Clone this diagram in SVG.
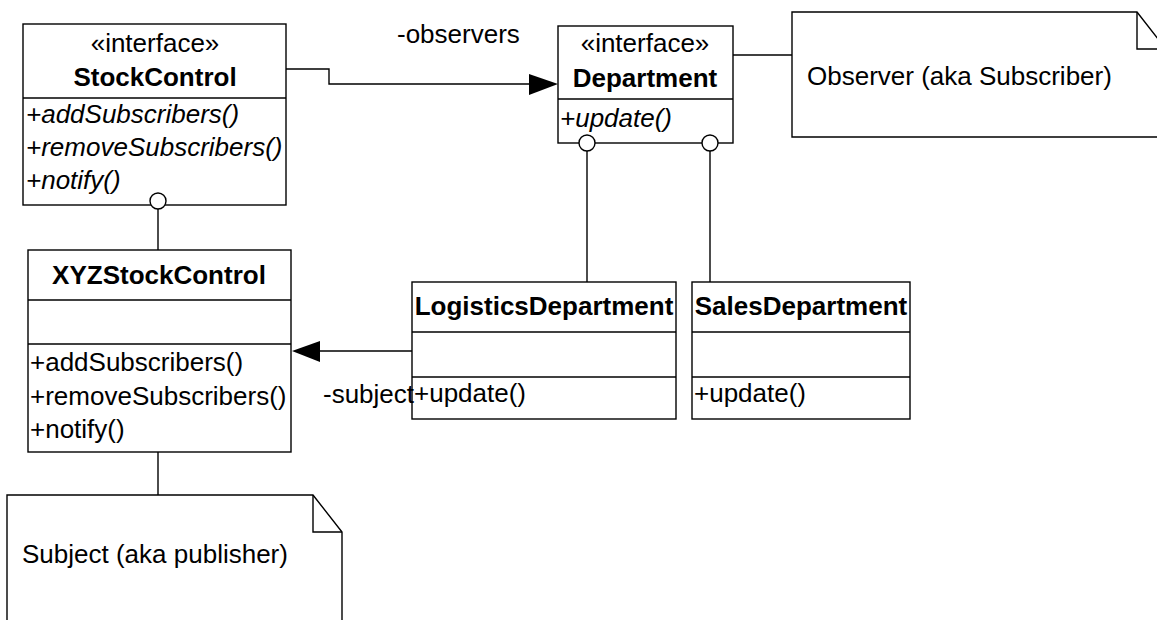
<svg xmlns="http://www.w3.org/2000/svg" width="1157" height="620" viewBox="0 0 1157 620">
<style>
.box{fill:#fff;stroke:#000;stroke-width:1.4}
.ln{fill:none;stroke:#000;stroke-width:1.4}
text{font-family:"Liberation Sans",Arial,sans-serif;font-size:26px;fill:#000}
.b{font-weight:bold}
.i{font-style:italic}
.c{text-anchor:middle}
</style>
<rect width="1157" height="620" fill="#fff"/>
<g id="connectors">
<polyline class="ln" points="286,69 329,69 329,84 530,84"/>
<polygon points="558,84 529,74 529,95" fill="#000"/>
<line class="ln" x1="158" y1="209" x2="158" y2="250"/>
<line class="ln" x1="587" y1="151" x2="587" y2="282"/>
<line class="ln" x1="710" y1="151" x2="710" y2="282"/>
<line class="ln" x1="412" y1="351" x2="319" y2="351"/>
<polygon points="292,351 320,341 320,362" fill="#000"/>
<line class="ln" x1="733" y1="55" x2="801" y2="55"/>
<line class="ln" x1="158" y1="452" x2="158" y2="498"/>
</g>
<g id="StockControl">
<rect class="box" x="23" y="24" width="263" height="181"/>
<line class="ln" x1="23" y1="98" x2="286" y2="98"/>
<text class="c" x="155" y="52">«interface»</text>
<text class="c b" x="155" y="86">StockControl</text>
<text class="i" x="26" y="123">+addSubscribers()</text>
<text class="i" x="26" y="156">+removeSubscribers()</text>
<text class="i" x="26" y="189">+notify()</text>
<circle class="box" cx="158" cy="201" r="8"/>
</g>
<g id="Department">
<rect class="box" x="558" y="26" width="175" height="117"/>
<line class="ln" x1="558" y1="99" x2="733" y2="99"/>
<text class="c" x="645" y="52">«interface»</text>
<text class="c b" x="645" y="87">Department</text>
<text class="i" x="560" y="127">+update()</text>
<circle class="box" cx="587" cy="143" r="8"/>
<circle class="box" cx="710" cy="143" r="8"/>
</g>
<g id="ObserverNote">
<path class="box" d="M792,12 L1137,12 L1166,49 L1166,137 L792,137 Z"/>
<polyline class="ln" points="1137,12 1137,49 1166,49"/>
<text x="807" y="85">Observer (aka Subscriber)</text>
</g>
<g id="XYZStockControl">
<rect class="box" x="28" y="250" width="263" height="202"/>
<line class="ln" x1="28" y1="300" x2="291" y2="300"/>
<line class="ln" x1="28" y1="344" x2="291" y2="344"/>
<text class="c b" x="159" y="284">XYZStockControl</text>
<text x="30" y="371">+addSubscribers()</text>
<text x="30" y="405">+removeSubscribers()</text>
<text x="30" y="438">+notify()</text>
</g>
<g id="LogisticsDepartment">
<rect class="box" x="412" y="282" width="264" height="137"/>
<line class="ln" x1="412" y1="332" x2="676" y2="332"/>
<line class="ln" x1="412" y1="377" x2="676" y2="377"/>
<text class="c b" x="544" y="315">LogisticsDepartment</text>
<text x="414" y="402">+update()</text>
</g>
<g id="SalesDepartment">
<rect class="box" x="692" y="282" width="218" height="137"/>
<line class="ln" x1="692" y1="332" x2="910" y2="332"/>
<line class="ln" x1="692" y1="377" x2="910" y2="377"/>
<text class="c b" x="801" y="315">SalesDepartment</text>
<text x="694" y="402">+update()</text>
</g>
<g id="SubjectNote">
<path class="box" d="M7,495 L313,495 L342,532 L342,630 L7,630 Z"/>
<polyline class="ln" points="313,495 313,532 342,532"/>
<text x="22" y="563">Subject (aka publisher)</text>
</g>
<g id="labels">
<text x="397" y="43">-observers</text>
<text x="323" y="403">-subject</text>
</g>
</svg>
